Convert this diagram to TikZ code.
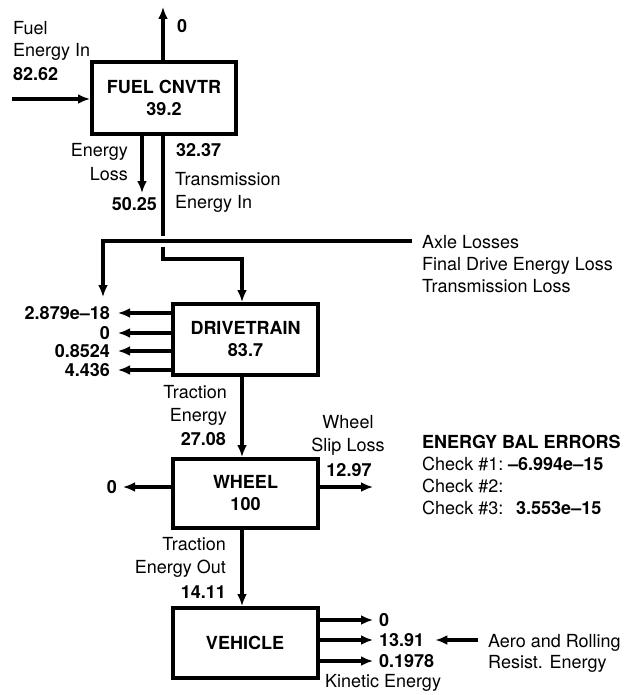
\documentclass[tikz,border=0pt]{standalone}
\usepackage{fontspec}
\setmainfont{TeX Gyre Heros}
\usepackage{tikz}
\usetikzlibrary{arrows.meta,calc,positioning}
\newcommand{\fsz}{\fontsize{18}{22}\selectfont}
\tikzstyle{blk}=[draw,line width=4pt,inner sep=0pt,minimum width=145pt,minimum height=70pt,align=center,font=\fsz\bfseries]
\tikzstyle{flow}=[line width=4pt,-{Latex[length=12pt,width=10pt]}]
\tikzstyle{lbl}=[inner sep=0pt,font=\fsz]
\tikzstyle{val}=[inner sep=0pt,font=\fsz\bfseries]

\begin{document}
\begin{tikzpicture}[x=1pt,y=-1pt,font=\fsz]
\useasboundingbox (0,0) rectangle (626,695);
% blocks
\node[blk,minimum width=144pt,minimum height=72pt](fc) at (164,98){FUEL CNVTR\\39.2};
\node[blk,minimum height=71pt](dt) at (245.5,339.5){DRIVETRAIN\\83.7};
\node[blk,minimum height=69pt](wh) at (245.5,493.5){WHEEL\\100};
\node[blk](vh) at (245,643){VEHICLE};
% fuel converter
\coordinate (fin) at (12,99);
\coordinate (fup) at (163,7);
\coordinate (eloss) at (142,193);
\coordinate (tin) at (163,236);
\coordinate (tout) at (163,247);
\coordinate (jog) at (242,259);
\draw[flow] (fin) -- (fin -| fc.west);
\draw[flow] (fc.north -| fup) -- (fup);
\draw[flow] (fc.south -| eloss) -- (eloss);
\draw[flow,-] (fc.south -| tin) -- (tin);
\draw[flow] (tout) -- (tout |- jog) -- (jog) -- (dt.north -| jog);
\node[lbl,anchor=base west](fuel1) at (13,35){Fuel};
\node[lbl,anchor=base west](fuel2) at (13,57){Energy In};
\node[val,anchor=base west](fuel3) at (13,81){82.62};
\node[val,anchor=base west](up0) at (177,33){0};
\node[lbl,anchor=base east](el1) at (128,157){Energy};
\node[lbl,anchor=base east](el2) at (128,180){Loss};
\node[val,anchor=base east](el3) at (157,210){50.25};
\node[val,anchor=base west](ti1) at (176,157){32.37};
\node[lbl,anchor=base west](ti2) at (175,185){Transmission};
\node[lbl,anchor=base west](ti3) at (175,208){Energy In};
% losses
\coordinate (lossR) at (412,241);
\coordinate (lossL) at (103,241);
\coordinate (lossT) at (103,297);
\draw[flow,line width=3.5pt] (lossR) -- (lossL) -- (lossT);
\node[lbl,anchor=base west](ax1) at (422,248){Axle Losses};
\node[lbl,anchor=base west](ax2) at (422,270){Final Drive Energy Loss};
\node[lbl,anchor=base west](ax3) at (422,292){Transmission Loss};
\foreach \yy/\txt [count=\i] in {313/{2.879e--18},333/0,351/0.8524,370/4.436}{
  \node[val,anchor=east](dtl\i) at (110,\yy){\txt};
  \draw[flow,shorten >=8pt] (dt.west |- dtl\i) -- (dtl\i.east);
}
% wheel
\draw[flow] (dt.south -| jog) -- (wh.north -| jog);
\node[lbl,anchor=base east](te1) at (227,398){Traction};
\node[lbl,anchor=base east](te2) at (227,421.7){Energy};
\node[val,anchor=base east](te3) at (226,445.7){27.08};
\node[val,anchor=east](wl) at (117,487){0};
\draw[flow,shorten >=6pt] (wh.west |- wl) -- (wl.east);
\coordinate (wslip) at (373,487);
\draw[flow] (wh.east |- wslip) -- (wslip);
\node[lbl,anchor=base](ws1) at (348,428){Wheel};
\node[lbl,anchor=base](ws2) at (348,451.7){Slip Loss};
\node[val,anchor=base](ws3) at (349,476){12.97};
\node[val,anchor=base west](eb0) at (422,448){ENERGY BAL ERRORS};
\node[lbl,anchor=base west](eb1) at (422,470){Check \#1:};
\node[val,anchor=base west](eb1v) at (518,470){\llap{--}6.994e--15};
\node[lbl,anchor=base west](eb2) at (422,492){Check \#2:};
\node[lbl,anchor=base west](eb3) at (422,514){Check \#3:};
\node[val,anchor=base west](eb3v) at (516,514){3.553e--15};
% vehicle
\draw[flow] (wh.south -| jog) -- (vh.north -| jog);
\node[lbl,anchor=base east](to1) at (226,550){Traction};
\node[lbl,anchor=base east](to2) at (226,573){Energy Out};
\node[val,anchor=base east](to3) at (226,598){14.11};
\foreach \yy/\txt [count=\i] in {620/0,640/13.91,661/0.1978}{
  \node[val,anchor=west](vl\i) at (379,\yy){\txt};
  \draw[flow,shorten >=6pt] (vh.east |- vl\i) -- (vl\i.west);
}
\node[lbl,anchor=base west](ke) at (325,687){Kinetic Energy};
\node[lbl,anchor=base west](ar1) at (488,647){Aero and Rolling};
\node[lbl,anchor=base west](ar2) at (488,668){Resist. Energy};
\coordinate (atail) at (478,640);
\draw[flow,shorten >=11pt] (atail) -- (vl2.east);
\end{tikzpicture}
\end{document}
